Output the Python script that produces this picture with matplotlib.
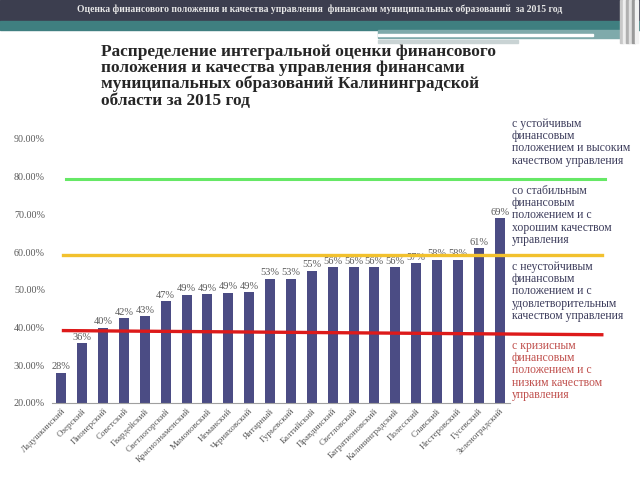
import matplotlib
matplotlib.use("Agg")
import matplotlib.pyplot as plt
from matplotlib.patches import Rectangle
from matplotlib.ticker import FuncFormatter

# municipalities and their integral score (share)
districts = ["Ладушкинский", "Озерский", "Пионерский", "Советский", "Гвардейский",
             "Светлогорский", "Краснознаменский", "Мамоновский", "Неманский",
             "Черняховский", "Янтарный", "Гурьевский", "Балтийский", "Правдинский",
             "Светловский", "Багратионовский", "Калининградский", "Полесский",
             "Славский", "Нестеровский", "Гусевский", "Зеленоградский"]
scores = [0.28, 0.359, 0.40, 0.425, 0.43, 0.47, 0.487, 0.488, 0.492, 0.493, 0.53,
          0.53, 0.55, 0.56, 0.56, 0.56, 0.56, 0.57, 0.58, 0.58, 0.61, 0.69]
labels = ["28%", "36%", "40%", "42%", "43%", "47%", "49%", "49%", "49%", "49%", "53%",
          "53%", "55%", "56%", "56%", "56%", "56%", "57%", "58%", "58%", "61%", "69%"]

# group thresholds (left and right ends of each line)
green_line = [0.795, 0.795]
yellow_line = [0.593, 0.593]
red_line = [0.392, 0.381]

groups = ["с устойчивым\nфинансовым\nположением и высоким\nкачеством управления",
          "со стабильным\nфинансовым\nположением и с\nхорошим качеством\nуправления",
          "с неустойчивым\nфинансовым\nположением и с\nудовлетворительным\nкачеством управления",
          "с кризисным\nфинансовым\nположением и с\nнизким качеством\nуправления"]

serif = "Liberation Serif"
W, H = 640, 480


def box(x, y, w, h, color, z=0):
    # rectangle in pixel coords measured from the top-left corner
    fig.patches.append(Rectangle((x / W, 1 - (y + h) / H), w / W, h / H,
                                 transform=fig.transFigure, color=color, zorder=z))


fig = plt.figure(figsize=(6.4, 4.8), dpi=100)

# slide header
box(0, 0, 640, 21, "#3c3e4f")
box(0, 21, 640, 9, "#3f7f80")
box(378, 30, 245, 8, "#7faaab")
box(378, 34.5, 215, 1.5, "white", 1)
box(378, 40, 140, 3, "#c9d3d4")
for i, c in enumerate(["#c8c8c8", "#eeeeee", "#b0b0b0", "#e0e0e0", "#9a9a9a", "#f2f2f2"]):
    box(620 + i * 3, 0, 3, 43, c, 1)
fig.text(320 / W, 1 - 9 / H,
         "Оценка финансового положения и качества управления  финансами муниципальных образований  за 2015 год",
         ha="center", va="center", color="#e8e8e8", fontsize=6.9, fontweight="bold", family=serif)

fig.text(101 / W, 1 - 44 / H,
         "Распределение интегральной оценки финансового\nположения и качества управления финансами\n"
         "муниципальных образований Калининградской\nобласти за 2015 год",
         ha="left", va="top", fontsize=12.4, fontweight="bold", family=serif,
         color="#262626", linespacing=1.0)

ax = fig.add_axes([52 / W, 1 - 403 / H, 458 / W, 264 / H])
x = list(range(len(districts)))
ax.bar(x, scores, width=0.48, color="#4b4c84", zorder=2)
for xi, v, lab in zip(x, scores, labels):
    ax.text(xi, v + 0.004, lab, ha="center", va="bottom", fontsize=7.5,
            color="#595959", family=serif, zorder=3)

ax.set_xlim(-0.45, len(districts) - 0.5)
ax.set_ylim(0.2, 0.9)
ax.set_yticks([0.2, 0.3, 0.4, 0.5, 0.6, 0.7, 0.8, 0.9])
ax.yaxis.set_major_formatter(FuncFormatter(lambda v, p: f"{v * 100:.2f}%"))
ax.set_xticks(x)
ax.set_xticklabels(districts, rotation=45, ha="right", rotation_mode="anchor",
                   fontsize=6.5, family=serif, color="#595959")
for t in ax.get_yticklabels():
    t.set_family(serif)
    t.set_fontsize(7.3)
    t.set_color("#595959")
ax.tick_params(length=0, pad=5)
ax.tick_params(axis="x", pad=3)
for s in ["left", "right", "top"]:
    ax.spines[s].set_visible(False)
ax.spines["bottom"].set_color("#a0a0a0")

x0, x1 = 0.2, 25.9
ax.plot([x0, x1 + 0.15], green_line, color="#66e866", lw=2.2, clip_on=False, zorder=4)
ax.plot([x0 - 0.1, x1], yellow_line, color="#f2c12e", lw=2.4, clip_on=False, zorder=4)
ax.plot([x0 - 0.1, x1], red_line, color="#dd1a1a", lw=2.4, clip_on=False, zorder=4)

tops = [118, 185, 261, 340]
colors = ["#3d3d5c", "#3d3d5c", "#3d3d5c", "#c0504d"]
for txt, ty, c in zip(groups, tops, colors):
    fig.text(512 / W, 1 - ty / H, txt, ha="left", va="top", fontsize=8.5,
             family=serif, color=c, linespacing=1.02)

fig.savefig("out.png", dpi=100)
